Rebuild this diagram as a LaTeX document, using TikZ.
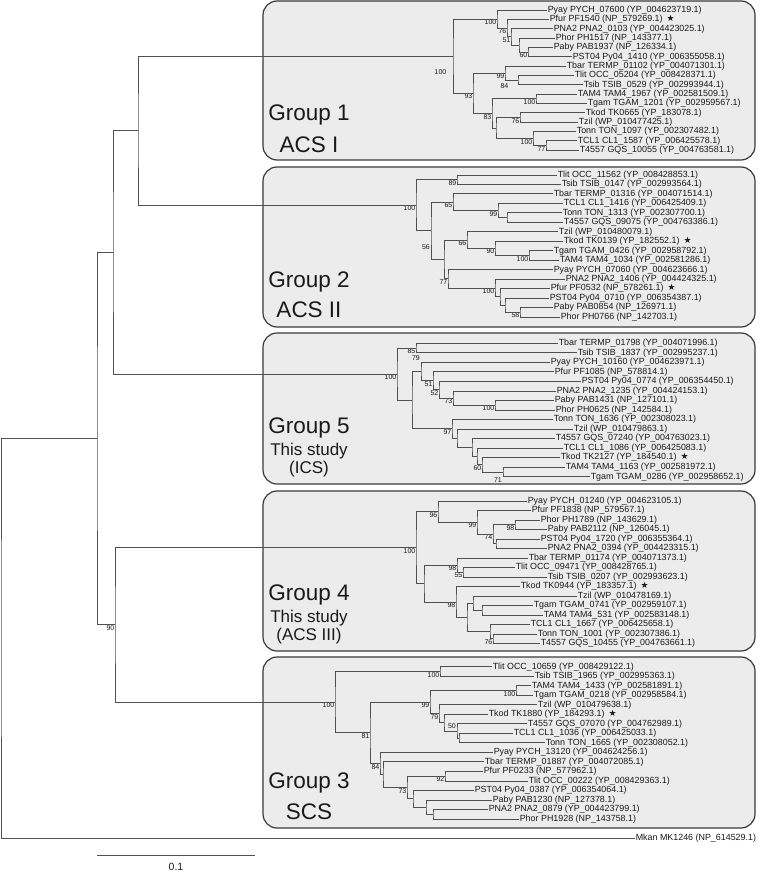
\documentclass[tikz,border=0pt]{standalone}
\usepackage{fontspec}
\setmainfont{Liberation Sans}
\newfontfamily\dvsym{DejaVu Sans}
\usetikzlibrary{calc}
\definecolor{linec}{HTML}{505050}
\definecolor{txt}{HTML}{1A1A1A}
\definecolor{boxfill}{HTML}{ECECEC}
\definecolor{boxline}{HTML}{3A3A3A}
\newcommand\tstar{\hspace{0.45em}{\dvsym ★}}
\newcommand\tleaf[4]{\coordinate (#1) at (#2,{\gy+(#3-1)*\gs}); \node[leaf] (#1t) at (#1) {#4};}
\newcommand\tnode[5]{%
  \coordinate (#1m) at ($(#3)!.5!(#4)$);
  \coordinate (#1) at (#2,0 |- #1m);
  \draw[br] (#3) -| (#1) |- (#4);
  \ifx\relax#5\relax\else\node[bs] (#1b) at (#1) {#5};\fi}
\tikzset{
  br/.style={draw=linec, line width=0.9pt},
  leaf/.style={anchor=west, inner sep=0.6pt, font=\fontsize{8.9}{9}\selectfont, text=txt},
  bs/.style={anchor=north east, inner sep=0.5pt, font=\fontsize{7}{7}\selectfont, text=txt},
  grpbox/.style={draw=boxline, fill=boxfill, line width=1.2pt, rounded corners=14pt},
  gbig/.style={anchor=base, font=\fontsize{22.5}{24}\selectfont, text=txt, inner sep=0pt},
  gsmall/.style={anchor=base, font=\fontsize{17}{18}\selectfont, text=txt, inner sep=0pt}
}
\begin{document}
\begin{tikzpicture}[x=1pt,y=-1pt]
\useasboundingbox (0,0) rectangle (760,872);
\fill[white] (0,0) rectangle (760,872);
% group boxes
\draw[grpbox] (263,1) rectangle (755,160);
\draw[grpbox] (263,167) rectangle (755,327);
\draw[grpbox] (263,333) rectangle (755,484);
\draw[grpbox] (263,491) rectangle (755,651);
\draw[grpbox] (263,657) rectangle (755,828);
% group labels
\node[gbig] (lab1a) at (309,121) {Group 1};
\node[gbig] (lab1b) at (309,152) {ACS I};
\node[gbig] (lab2a) at (309,287) {Group 2};
\node[gbig] (lab2b) at (309,317) {ACS II};
\node[gbig] (lab5a) at (309,433) {Group 5};
\node[gsmall] (lab5b) at (309,455) {This study};
\node[gsmall] (lab5c) at (309,473) {(ICS)};
\node[gbig] (lab4a) at (309,600) {Group 4};
\node[gsmall] (lab4b) at (309,622) {This study};
\node[gsmall] (lab4c) at (309,640) {(ACS III)};
\node[gbig] (lab3a) at (309,788) {Group 3};
\node[gbig] (lab3b) at (309,819) {SCS};
% ---------------- Group 1
\def\gy{10}\def\gs{9.35}
\tleaf{g1a}{547}{1}{Pyay PYCH\_07600 (YP\_004623719.1)}
\tleaf{g1b}{549}{2}{Pfur PF1540 (NP\_579269.1)\tstar}
\tleaf{g1c}{553}{3}{PNA2 PNA2\_0103 (YP\_004423025.1)}
\tleaf{g1d}{555}{4}{Phor PH1517 (NP\_143377.1)}
\tleaf{g1e}{553}{5}{Paby PAB1937 (NP\_126334.1)}
\tleaf{g1f}{572}{6}{PST04 Py04\_1410 (YP\_006355058.1)}
\tleaf{g1g}{566}{7}{Tbar TERMP\_01102 (YP\_004071301.1)}
\tleaf{g1h}{574}{8}{Tlit OCC\_05204 (YP\_008428371.1)}
\tleaf{g1i}{583}{9}{Tsib TSIB\_0529 (YP\_002993944.1)}
\tleaf{g1j}{577}{10}{TAM4 TAM4\_1967 (YP\_002581509.1)}
\tleaf{g1k}{587}{11}{Tgam TGAM\_1201 (YP\_002959567.1)}
\tleaf{g1l}{585}{12}{Tkod TK0665 (YP\_183078.1)}
\tleaf{g1m}{578}{13}{Tzil (WP\_010477425.1)}
\tleaf{g1n}{576}{14}{Tonn TON\_1097 (YP\_002307482.1)}
\tleaf{g1o}{577}{15}{TCL1 CL1\_1587 (YP\_006425578.1)}
\tleaf{g1p}{579}{16}{T4557 GQS\_10055 (YP\_004763581.1)}
\tnode{n1a5}{528}{g1e}{g1f}{60}
\tnode{n1a4}{519}{g1d}{n1a5}{}
\tnode{n1a3}{511}{g1c}{n1a4}{51}
\tnode{n1a2}{507}{g1b}{n1a3}{76}
\tnode{n1a1}{497}{g1a}{n1a2}{100}
\tnode{n1c2}{518}{g1h}{g1i}{}
\node[bs] (n1c2b) at (509,83) {84};
\tnode{n1c}{505}{g1g}{n1c2}{99}
\tnode{n1e}{536}{g1j}{g1k}{100}
\tnode{n1g}{520}{g1l}{g1m}{76}
\tnode{n1i}{546}{g1o}{g1p}{77}
\tnode{n1h}{533}{g1n}{n1i}{100}
\tnode{n1f}{496}{n1g}{n1h}{}
\tnode{n1d}{492}{n1e}{n1f}{83}
\tnode{n1b}{473}{n1c}{n1d}{93}
\tnode{n1r}{453}{n1a1}{n1b}{}
\node[bs] (n1rb) at (447,68.5) {100};
% ---------------- Group 2
\def\gy{175}\def\gs{9.47}
\tleaf{g2a}{557}{1}{Tlit OCC\_11562 (YP\_008428853.1)}
\tleaf{g2b}{561}{2}{Tsib TSIB\_0147 (YP\_002993564.1)}
\tleaf{g2c}{553}{3}{Tbar TERMP\_01316 (YP\_004071514.1)}
\tleaf{g2d}{563}{4}{TCL1 CL1\_1416 (YP\_006425409.1)}
\tleaf{g2e}{562}{5}{Tonn TON\_1313 (YP\_002307700.1)}
\tleaf{g2f}{563}{6}{T4557 GQS\_09075 (YP\_004763386.1)}
\tleaf{g2g}{558}{7}{Tzil (WP\_010480079.1)}
\tleaf{g2h}{563}{8}{Tkod TK0139 (YP\_182552.1)\tstar}
\tleaf{g2i}{553}{9}{Tgam TGAM\_0426 (YP\_002958792.1)}
\tleaf{g2j}{559}{10}{TAM4 TAM4\_1034 (YP\_002581286.1)}
\tleaf{g2k}{553}{11}{Pyay PYCH\_07060 (YP\_004623666.1)}
\tleaf{g2l}{565}{12}{PNA2 PNA2\_1406 (YP\_004424325.1)}
\tleaf{g2m}{550}{13}{Pfur PF0532 (NP\_578261.1)\tstar}
\tleaf{g2n}{549}{14}{PST04 Py04\_0710 (YP\_006354387.1)}
\tleaf{g2o}{553}{15}{Paby PAB0854 (NP\_126971.1)}
\tleaf{g2p}{560}{16}{Phor PH0766 (NP\_142703.1)}
\tnode{n2j}{457}{g2a}{g2b}{89}
\tnode{n2o}{507}{g2e}{g2f}{}
\tnode{n2n}{498}{g2d}{n2o}{99}
\tnode{n2l}{453}{g2c}{n2n}{65}
\tnode{n2p3}{529}{g2i}{g2j}{100}
\tnode{n2p2}{495}{g2h}{n2p3}{90}
\tnode{n2p}{467}{g2g}{n2p2}{66}
\tnode{n2s3}{520}{g2o}{g2p}{58}
\tnode{n2s2}{505}{g2n}{n2s3}{}
\tnode{n2s}{500}{g2m}{n2s2}{}
\tnode{n2r}{495}{g2l}{n2s}{100}
\tnode{n2q}{448}{g2k}{n2r}{77}
\tnode{n2m}{444}{n2p}{n2q}{}
\tnode{n2k}{431}{n2l}{n2m}{}
\node[bs] (n2kb) at (430.5,243.5) {56};
\tnode{n2r0}{416}{n2j}{n2k}{100}
% ---------------- Group 5
\def\gy{343.3}\def\gs{9.53}
\tleaf{g5a}{558}{1}{Tbar TERMP\_01798 (YP\_004071996.1)}
\tleaf{g5b}{577}{2}{Tsib TSIB\_1837 (YP\_002995237.1)}
\tleaf{g5c}{550}{3}{Pyay PYCH\_10160 (YP\_004623971.1)}
\tleaf{g5d}{554}{4}{Pfur PF1085 (NP\_578814.1)}
\tleaf{g5e}{581}{5}{PST04 Py04\_0774 (YP\_006354450.1)}
\tleaf{g5f}{556}{6}{PNA2 PNA2\_1235 (YP\_004424153.1)}
\tleaf{g5g}{554}{7}{Paby PAB1431 (NP\_127101.1)}
\tleaf{g5h}{555}{8}{Phor PH0625 (NP\_142584.1)}
\tleaf{g5i}{553}{9}{Tonn TON\_1636 (YP\_002308023.1)}
\tleaf{g5j}{573}{10}{Tzil (WP\_010479863.1)}
\tleaf{g5k}{555}{11}{T4557 GQS\_07240 (YP\_004763023.1)}
\tleaf{g5l}{563}{12}{TCL1 CL1\_1086 (YP\_006425083.1)}
\tleaf{g5m}{560}{13}{Tkod TK2127 (YP\_184540.1)\tstar}
\tleaf{g5n}{565}{14}{TAM4 TAM4\_1163 (YP\_002581972.1)}
\tleaf{g5o}{590}{15}{Tgam TGAM\_0286 (YP\_002958652.1)}
\tnode{n5u}{416}{g5a}{g5b}{85}
\tnode{n5w5}{495}{g5g}{g5h}{100}
\tnode{n5w4}{453}{g5f}{n5w5}{73}
\tnode{n5w3}{439}{g5e}{n5w4}{52}
\tnode{n5w2}{433}{g5d}{n5w3}{51}
\tnode{n5w}{421}{g5c}{n5w2}{}
\node[bs, anchor=south east] (n5wb) at (420.5,361) {79};
\tnode{n5z4}{503}{g5n}{g5o}{}
\node[bs] (n5z4b) at (502.5,476.5) {71};
\tnode{n5z3}{482}{g5m}{n5z4}{60}
\tnode{n5z2}{477}{g5l}{n5z3}{}
\tnode{n5z}{472}{g5k}{n5z2}{}
\tnode{n5y}{457}{g5j}{n5z}{}
\tnode{n5x}{452}{g5i}{n5y}{97}
\tnode{n5v}{412}{n5w}{n5x}{}
\tnode{n5r}{397}{n5u}{n5v}{100}
% ---------------- Group 4
\def\gy{501}\def\gs{9.51}
\tleaf{g4a}{527}{1}{Pyay PYCH\_01240 (YP\_004623105.1)}
\tleaf{g4b}{531}{2}{Pfur PF1838 (NP\_579567.1)}
\tleaf{g4c}{540}{3}{Phor PH1789 (NP\_143629.1)}
\tleaf{g4d}{547}{4}{Paby PAB2112 (NP\_126045.1)}
\tleaf{g4e}{540}{5}{PST04 Py04\_1720 (YP\_006355364.1)}
\tleaf{g4f}{547}{6}{PNA2 PNA2\_0394 (YP\_004423315.1)}
\tleaf{g4g}{528}{7}{Tbar TERMP\_01174 (YP\_004071373.1)}
\tleaf{g4h}{515}{8}{Tlit OCC\_09471 (YP\_008428765.1)}
\tleaf{g4i}{547}{9}{Tsib TSIB\_0207 (YP\_002993623.1)}
\tleaf{g4j}{520}{10}{Tkod TK0944 (YP\_183357.1)\tstar}
\tleaf{g4k}{577}{11}{Tzil (WP\_010478169.1)}
\tleaf{g4l}{533}{12}{Tgam TGAM\_0741 (YP\_002959107.1)}
\tleaf{g4m}{543}{13}{TAM4 TAM4\_531 (YP\_002583148.1)}
\tleaf{g4n}{530}{14}{TCL1 CL1\_1667 (YP\_006425658.1)}
\tleaf{g4o}{537}{15}{Tonn TON\_1001 (YP\_002307386.1)}
\tleaf{g4p}{540}{16}{T4557 GQS\_10455 (YP\_004763661.1)}
\tnode{n4ae}{515}{g4c}{g4d}{98}
\tnode{n4af}{496}{g4e}{g4f}{}
\tnode{n4ad}{493}{n4ae}{n4af}{74}
\tnode{n4ac}{477}{g4b}{n4ad}{99}
\tnode{n4aa}{438}{g4a}{n4ac}{96}
\tnode{n4ai}{463}{g4h}{g4i}{55}
\tnode{n4ag}{457}{g4g}{n4ai}{98}
\tnode{n4am}{482}{g4l}{g4m}{}
\tnode{n4ak}{473}{g4k}{n4am}{}
\tnode{n4an}{493}{g4o}{g4p}{76}
\tnode{n4al}{490}{g4n}{n4an}{}
\tnode{n4aj}{467}{n4ak}{n4al}{}
\tnode{n4ah}{456}{g4j}{n4aj}{98}
\tnode{n4ab}{424}{n4ag}{n4ah}{}
\tnode{n4r}{416}{n4aa}{n4ab}{100}
% ---------------- Group 3
\def\gy{666.7}\def\gs{9.52}
\tleaf{g3a}{492}{1}{Tlit OCC\_10659 (YP\_008429122.1)}
\tleaf{g3b}{534}{2}{Tsib TSIB\_1965 (YP\_002995363.1)}
\tleaf{g3c}{531}{3}{TAM4 TAM4\_1433 (YP\_002581891.1)}
\tleaf{g3d}{533}{4}{Tgam TGAM\_0218 (YP\_002958584.1)}
\tleaf{g3e}{537}{5}{Tzil (WP\_010479638.1)}
\tleaf{g3f}{488}{6}{Tkod TK1880 (YP\_184293.1)\tstar}
\tleaf{g3g}{527}{7}{T4557 GQS\_07070 (YP\_004762989.1)}
\tleaf{g3h}{513}{8}{TCL1 CL1\_1036 (YP\_006425033.1)}
\tleaf{g3i}{545}{9}{Tonn TON\_1665 (YP\_002308052.1)}
\tleaf{g3j}{493}{10}{Pyay PYCH\_13120 (YP\_004624256.1)}
\tleaf{g3k}{484}{11}{Tbar TERMP\_01887 (YP\_004072085.1)}
\tleaf{g3l}{483}{12}{Pfur PF0233 (NP\_577962.1)}
\tleaf{g3m}{528}{13}{Tlit OCC\_00222 (YP\_008429363.1)}
\tleaf{g3n}{474}{14}{PST04 Py04\_0387 (YP\_006354064.1)}
\tleaf{g3o}{492}{15}{Paby PAB1230 (NP\_127378.1)}
\tleaf{g3p}{488}{16}{PNA2 PNA2\_0879 (YP\_004423799.1)}
\tleaf{g3q}{519}{17}{Phor PH1928 (NP\_143758.1)}
\tnode{n3ba}{440}{g3a}{g3b}{100}
\tnode{n3be}{516}{g3c}{g3d}{100}
\tnode{n3bi}{459}{g3h}{g3i}{}
\tnode{n3bh}{457}{g3g}{n3bi}{}
\node[bs] (n3bhb) at (456.5,722.5) {50};
\tnode{n3bg}{444}{g3f}{n3bh}{}
\tnode{n3bf}{439}{g3e}{n3bg}{79}
\tnode{n3bc}{430}{n3be}{n3bf}{99}
\tnode{n3bl}{445}{g3l}{g3m}{92}
\tnode{n3bo}{433}{g3p}{g3q}{}
\tnode{n3bn}{426}{g3o}{n3bo}{}
\tnode{n3bm}{413}{g3n}{n3bn}{}
\tnode{n3bk}{407}{n3bl}{n3bm}{73}
\tnode{n3bj}{383}{g3k}{n3bk}{}
\tnode{n3bd}{380}{g3j}{n3bj}{84}
\tnode{n3bb}{370}{n3bc}{n3bd}{81}
\tnode{n3r}{335}{n3ba}{n3bb}{100}
% ---------------- backbone
\coordinate (mk) at (635,838);
\node[leaf] (mkt) at (mk) {Mkan MK1246 (NP\_614529.1)};
\tnode{nrd}{138}{n1r}{n2r0}{}
\tnode{nrb}{113}{nrd}{n5r}{}
\tnode{nrc}{115}{n4r}{n3r}{90}
\tnode{nra}{97}{nrb}{nrc}{}
\tnode{nroot}{1}{nra}{mk}{}
% scale bar
\coordinate (sb1) at (97,855);
\coordinate (sb2) at (255,855);
\draw[br] (sb1) -- (sb2);
\node[font=\fontsize{10.5}{11}\selectfont, text=txt] (sbl) at (176,867) {0.1};
\end{tikzpicture}
\end{document}
